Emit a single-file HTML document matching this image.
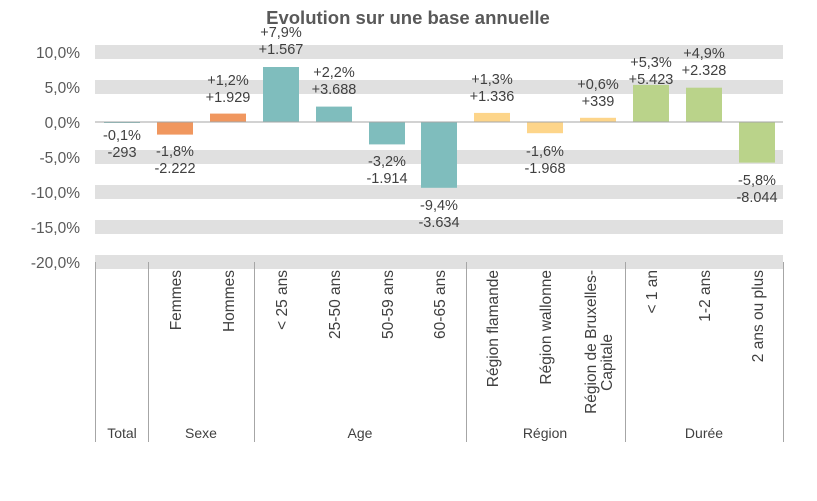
<!DOCTYPE html>
<html><head><meta charset="utf-8"><style>
html,body{margin:0;padding:0;background:#fff;}
svg{display:block;font-family:"Liberation Sans",Arial,sans-serif;}
</style></head><body>
<svg width="817" height="501" viewBox="0 0 817 501" xmlns="http://www.w3.org/2000/svg">
<text x="408" y="24" text-anchor="middle" font-size="18.5" font-weight="bold" fill="#595959">Evolution sur une base annuelle</text>
<g fill="#e0e0e0">
<rect x="95" y="45" width="688" height="14"/>
<rect x="95" y="80" width="688" height="14"/>
<rect x="95" y="150" width="688" height="14"/>
<rect x="95" y="185" width="688" height="14"/>
<rect x="95" y="220" width="688" height="14"/>
<rect x="95" y="255" width="688" height="14"/>
</g>
<g font-size="15.5" fill="#595959" text-anchor="end">
<text x="80" y="58">10,0%</text>
<text x="80" y="93">5,0%</text>
<text x="80" y="128">0,0%</text>
<text x="80" y="163">-5,0%</text>
<text x="80" y="198">-10,0%</text>
<text x="80" y="233">-15,0%</text>
<text x="80" y="268">-20,0%</text>
</g>
<g>
<rect x="104" y="122" width="36" height="1" fill="#7fbdbd"/>
<rect x="157" y="122" width="36" height="12.6" fill="#f0975f"/>
<rect x="210" y="113.6" width="36" height="8.4" fill="#f0975f"/>
<rect x="263" y="67" width="36" height="55" fill="#7fbdbd"/>
<rect x="316" y="106.6" width="36" height="15.4" fill="#7fbdbd"/>
<rect x="369" y="122" width="36" height="22.4" fill="#7fbdbd"/>
<rect x="421" y="122" width="36" height="65.8" fill="#7fbdbd"/>
<rect x="474" y="112.9" width="36" height="9.1" fill="#fdd58a"/>
<rect x="527" y="122" width="36" height="11.2" fill="#fdd58a"/>
<rect x="580" y="117.8" width="36" height="4.2" fill="#fdd58a"/>
<rect x="633" y="84.9" width="36" height="37.1" fill="#bad38a"/>
<rect x="686" y="87.7" width="36" height="34.3" fill="#bad38a"/>
<rect x="739" y="122" width="36" height="40.6" fill="#bad38a"/>
</g>
<line x1="95" y1="122" x2="783" y2="122" stroke="#a6a6a6" stroke-width="1"/>
<g font-size="14.5" fill="#404040" text-anchor="middle">
<text x="122" y="140">-0,1%</text><text x="122" y="157">-293</text>
<text x="175" y="156">-1,8%</text><text x="175" y="173">-2.222</text>
<text x="228" y="85">+1,2%</text><text x="228" y="102">+1.929</text>
<text x="281" y="37">+7,9%</text><text x="281" y="54">+1.567</text>
<text x="334" y="77">+2,2%</text><text x="334" y="94">+3.688</text>
<text x="387" y="166">-3,2%</text><text x="387" y="183">-1.914</text>
<text x="439" y="210">-9,4%</text><text x="439" y="227">-3.634</text>
<text x="492" y="84">+1,3%</text><text x="492" y="101">+1.336</text>
<text x="545" y="156">-1,6%</text><text x="545" y="173">-1.968</text>
<text x="598" y="89">+0,6%</text><text x="598" y="106">+339</text>
<text x="651" y="67">+5,3%</text><text x="651" y="84">+5.423</text>
<text x="704" y="58">+4,9%</text><text x="704" y="75">+2.328</text>
<text x="757" y="185">-5,8%</text><text x="757" y="202">-8.044</text>
</g>
<g stroke="#a6a6a6" stroke-width="1">
<line x1="95.5" y1="262" x2="95.5" y2="442"/>
<line x1="148.5" y1="262" x2="148.5" y2="442"/>
<line x1="254.5" y1="262" x2="254.5" y2="442"/>
<line x1="466.5" y1="262" x2="466.5" y2="442"/>
<line x1="625.5" y1="262" x2="625.5" y2="442"/>
<line x1="783.5" y1="262" x2="783.5" y2="442"/>
</g>
<g font-size="15.5" fill="#404040" text-anchor="end">
<text transform="translate(181,270) rotate(-90)">Femmes</text>
<text transform="translate(234,270) rotate(-90)">Hommes</text>
<text transform="translate(287,270) rotate(-90)">&lt; 25 ans</text>
<text transform="translate(340,270) rotate(-90)">25-50 ans</text>
<text transform="translate(393,270) rotate(-90)">50-59 ans</text>
<text transform="translate(445,270) rotate(-90)">60-65 ans</text>
<text transform="translate(498,270) rotate(-90)">Région flamande</text>
<text transform="translate(551,270) rotate(-90)">Région wallonne</text>
<text transform="translate(596,270) rotate(-90)">Région de Bruxelles-</text>
<text transform="translate(612,334) rotate(-90)">Capitale</text>
<text transform="translate(657,270) rotate(-90)">&lt; 1 an</text>
<text transform="translate(710,270) rotate(-90)">1-2 ans</text>
<text transform="translate(763,270) rotate(-90)">2 ans ou plus</text>
</g>
<g font-size="14" fill="#404040" text-anchor="middle">
<text x="122" y="438">Total</text>
<text x="201" y="438">Sexe</text>
<text x="360" y="438">Age</text>
<text x="545" y="438">Région</text>
<text x="704" y="438">Durée</text>
</g>
</svg>
</body></html>
